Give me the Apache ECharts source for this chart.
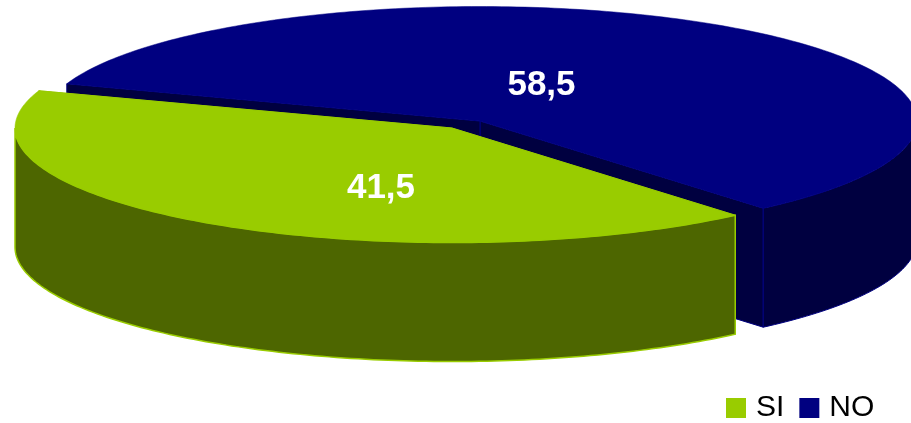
<!DOCTYPE html>
<html>
<head>
<meta charset="utf-8">
<style>html,body{margin:0;padding:0;background:#fff}#c{width:911px;height:423px}</style>
<script src="https://cdn.jsdelivr.net/npm/echarts@6/dist/echarts.min.js"></script>
</head>
<body>
<div id="c"></div>
<script>
var categories = ['SI', 'NO'];
var values = [41.5, 58.5];
var topColors = ['#99CC00', '#000080'];
var sideColors = ['#4D6600', '#000040'];

var START_ANGLE = 199;
var RX = 437, RY = 114.5, DEPTH = 119;
var centers = [[452, 128], [480, 121]];
var labelPos = [[381, 188], [541.5, 85]];
var total = values[0] + values[1];

function rad(d) { return d * Math.PI / 180; }
function pt(c, a, dy) {
  return [c[0] + RX * Math.cos(rad(a)), c[1] + RY * Math.sin(rad(a)) + (dy || 0)];
}
function arcPts(c, from, to, dy) {
  var out = [], n = Math.max(2, Math.ceil(Math.abs(to - from)));
  for (var i = 0; i <= n; i++) out.push(pt(c, from + (to - from) * i / n, dy));
  return out;
}
function poly(points, fill, stroke, lw) {
  return { type: 'polygon', shape: { points: points },
    style: { fill: fill, stroke: stroke || null, lineWidth: lw || 0 }, silent: true };
}

function makeRender(idx) {
  return function (params, api) {
    var v = api.value(0);
    var before = 0;
    for (var k = 0; k < idx; k++) before += values[k];
    var a0 = START_ANGLE - before / total * 360;
    var a1 = a0 - v / total * 360;
    var c = centers[idx], top = topColors[idx], side = sideColors[idx];
    var children = [];
    // cut faces (the back-facing ones are overdrawn by the top face)
    [a0, a1].forEach(function (a) {
      var p = pt(c, a);
      children.push(poly([c, p, [p[0], p[1] + DEPTH], [c[0], c[1] + DEPTH]], side, top, 1));
    });
    // outer rim: the part of the arc in the lower half of the ellipse
    var hi = Math.max(a0, a1), lo = Math.min(a0, a1);
    [[lo, hi], [lo + 360, hi + 360], [lo - 360, hi - 360]].forEach(function (r) {
      var from = Math.max(r[0], 0), to = Math.min(r[1], 180);
      if (to > from) {
        var upper = arcPts(c, from, to, 0), lower = arcPts(c, to, from, DEPTH);
        children.push(poly(upper.concat(lower), side, top, idx === 0 ? 1.5 : 1));
      }
    });
    // top face
    children.push(poly([c].concat(arcPts(c, a0, a1, 0)), top, top, 0.5));
    // value label
    children.push({
      type: 'text', silent: true,
      style: {
        x: labelPos[idx][0], y: labelPos[idx][1],
        text: v.toFixed(1).replace('.', ','),
        fill: '#fff', align: 'center', verticalAlign: 'middle',
        font: 'bold 35px "Liberation Sans", Arial, sans-serif'
      }
    });
    return { type: 'group', children: children };
  };
}

var chart = echarts.init(document.getElementById('c'), null, { renderer: 'canvas' });
chart.setOption({
  animation: false,
  backgroundColor: '#fff',
  legend: {
    data: categories,
    left: 726, top: 393,
    padding: 0,
    icon: 'rect',
    itemWidth: 20, itemHeight: 20, itemGap: 15,
    selectedMode: false,
    textStyle: { fontFamily: '"Liberation Sans", Arial, sans-serif', fontSize: 30, color: '#000', padding: [0, 0, 0, 5] }
  },
  series: categories.map(function (name, i) {
    return {
      type: 'custom', name: name, coordinateSystem: 'none',
      z: i === 0 ? 3 : 2,
      itemStyle: { color: topColors[i] },
      renderItem: makeRender(i),
      data: [[values[i]]]
    };
  })
});
</script>
</body>
</html>
